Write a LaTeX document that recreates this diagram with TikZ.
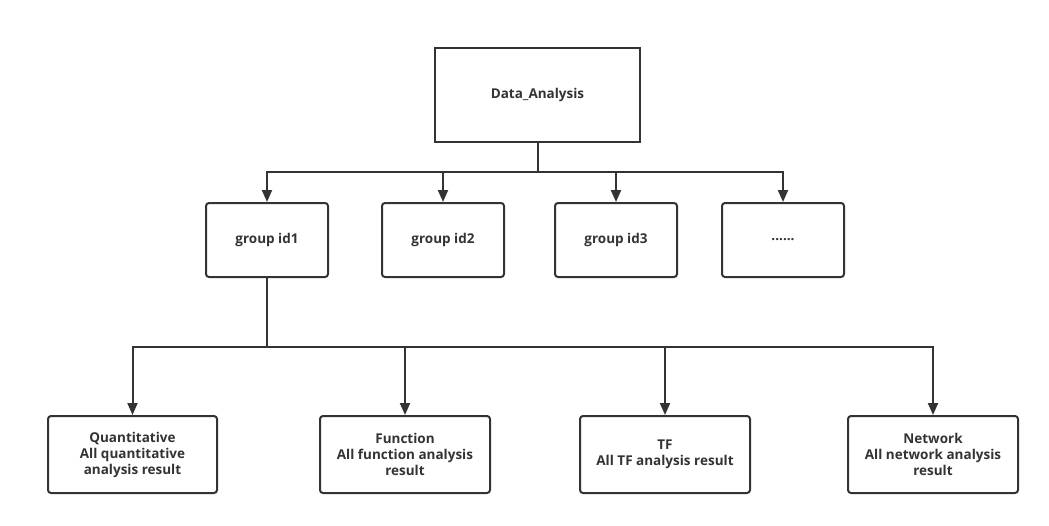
\documentclass[tikz,border=0pt]{standalone}
\usepackage{fontspec}
\setmainfont{Open Sans}
\usetikzlibrary{arrows.meta}
\definecolor{linegray}{HTML}{333333}
\tikzset{
  box/.style={draw=linegray, line width=2pt, rounded corners=3pt, align=center,
    font=\bfseries\fontsize{13.5}{16}\selectfont, text=linegray, inner sep=0pt},
  link/.style={draw=linegray, line width=2pt},
  arr/.style={link, -{Triangle[length=12pt,width=10pt]}}
}
\begin{document}
\begin{tikzpicture}[x=1pt,y=-1pt]
\useasboundingbox (0,0) rectangle (1049,525);
\node[box, rounded corners=0pt, minimum width=205pt, minimum height=94pt] (da) at (537.5,95) {Data\_Analysis};
\node[box, minimum width=122pt, minimum height=74pt] (g1) at (267,240) {group id1};
\node[box, minimum width=122pt, minimum height=74pt] (g2) at (443,240) {group id2};
\node[box, minimum width=122pt, minimum height=74pt] (g3) at (616,240) {group id3};
\node[box, minimum width=122pt, minimum height=74pt] (g4) at (783,240) {......};
\node[box, minimum width=169pt, minimum height=77pt] (quant) at (132.5,454.5) {Quantitative\\All quantitative\\analysis result};
\node[box, minimum width=170pt, minimum height=77pt] (func) at (405,454.5) {Function\\All function analysis\\result};
\node[box, minimum width=170pt, minimum height=77pt] (tf) at (665,454.5) {TF\\All TF analysis result};
\node[box, minimum width=170pt, minimum height=77pt] (net) at (933,454.5) {Network\\All network analysis\\result};
% upper tree
\coordinate (j1) at (537.5,172);
\draw[link] (da.south) -- (j1);
\foreach \g in {g1,g2,g3,g4} \draw[arr] (j1) -| (\g.north);
% lower tree
\coordinate (j2) at (267,347);
\draw[link] (g1.south) -- (j2);
\foreach \r in {quant,func,tf,net} \draw[arr] (j2) -| (\r.north);
\end{tikzpicture}
\end{document}
